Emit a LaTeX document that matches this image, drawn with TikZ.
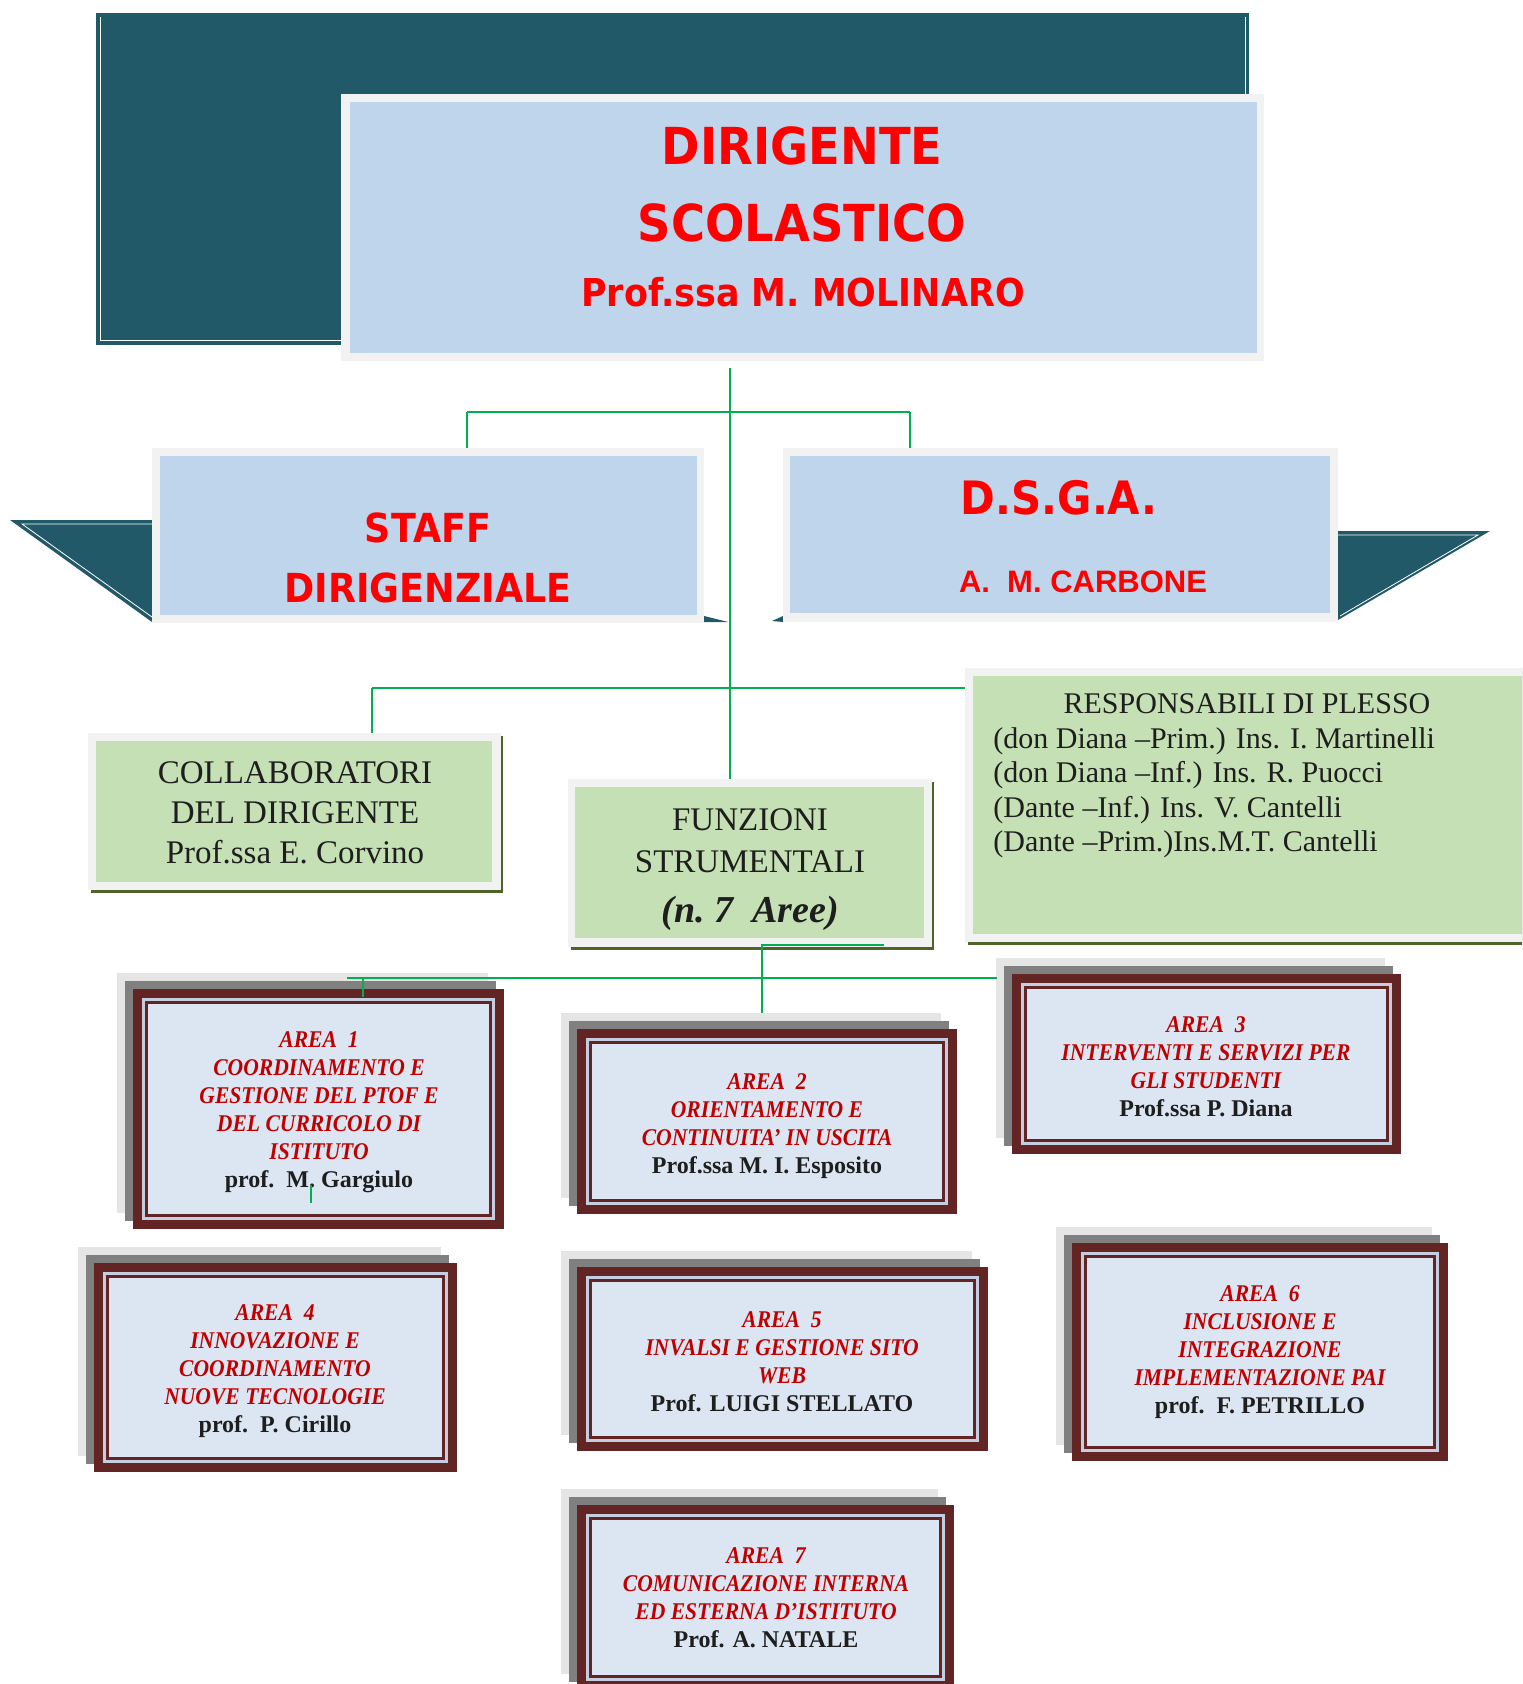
\documentclass[tikz,border=0pt]{standalone}
\usepackage{fontspec}
\setmainfont{Liberation Serif}
\newfontfamily\titlefont[FakeStretch=0.91]{DejaVu Sans}
\newfontfamily\areafont[FakeStretch=0.9]{Liberation Serif}
\newfontfamily\carbonfont{Liberation Sans}
\usetikzlibrary{fit}
\definecolor{cteal}{HTML}{215968}
\definecolor{cblue}{HTML}{BED5EB}
\definecolor{cborder}{HTML}{F2F2F2}
\definecolor{cgreenfill}{HTML}{C5E0B4}
\definecolor{colive}{HTML}{4F6228}
\definecolor{cline}{HTML}{00B050}
\definecolor{cred}{HTML}{FF0000}
\definecolor{careared}{HTML}{C00000}
\definecolor{cmaroon}{HTML}{632523}
\definecolor{careafill}{HTML}{DCE6F2}
\definecolor{cgap}{HTML}{C5CEE0}
\definecolor{cdgray}{HTML}{808080}
\definecolor{clgray}{HTML}{E5E5E5}
\definecolor{ctext}{HTML}{1E1E1E}
\newcommand\redl[1]{{\color{careared}\areafont\bfseries\itshape #1}}
\newcommand\namel[1]{{\color{ctext}\bfseries #1}}
\newcommand\areabox[5]{%
  \fill[clgray] ({#2-16},{#3-16}) rectangle ({#4-16},{#5-16});
  \fill[cdgray] ({#2-8},{#3-8}) rectangle ({#4-8},{#5-8});
  \node[fit={(#2,#3) (#4,#5)}, inner sep=0, outer sep=0, fill=cmaroon] (#1) {};
  \fill[cgap] ([shift={(9,9)}]#1.north west) rectangle ([shift={(-9,-9)}]#1.south east);
  \fill[cmaroon] ([shift={(12,12)}]#1.north west) rectangle ([shift={(-12,-12)}]#1.south east);
  \fill[careafill] ([shift={(15,15)}]#1.north west) rectangle ([shift={(-15,-15)}]#1.south east);
}
\tikzset{
  conn/.style={draw=cline, line width=1pt},
  boxnode/.style={inner sep=0, outer sep=0, fill=cborder},
  ttl/.style={anchor=base, inner sep=0, text=cred},
  areatext/.style={anchor=base, inner sep=0, font=\fontsize{12}{14}\selectfont},
  greentext/.style={anchor=base, inner sep=0, text=ctext},
}
\begin{document}
\begin{tikzpicture}[x=0.5pt,y=-0.5pt]
\path[use as bounding box] (0,0) rectangle (1522,1684);
\clip (0,0) rectangle (1522,1684);

% top dark panel
\fill[cteal] (96,13) rectangle (1249,345);
\draw[white, line width=0.5pt] (100,17) -- (100,341) -- (1245,341) -- (1245,17);

% dirigente
\node[boxnode, fit={(341,94) (1264,361)}] (dir) {};
\fill[cblue] ([shift={(9,8)}]dir.north west) rectangle ([shift={(-7,-8)}]dir.south east);
\node[ttl, font=\titlefont\bfseries\fontsize{25.5}{30}\selectfont] (dt1) at (802,165) {DIRIGENTE};
\node[ttl, font=\titlefont\bfseries\fontsize{25.5}{30}\selectfont] (dt2) at (802,242) {SCOLASTICO};
\node[ttl, font=\titlefont\bfseries\fontsize{19.2}{23}\selectfont] (dt3) at (803,307) {Prof.ssa M. MOLINARO};

% banners
\fill[cteal] (10,520) -- (152,520) -- (152,622) -- cycle;
\draw[white, line width=0.4pt] (152,524) -- (22,524) -- (152,617);
\fill[cteal] (704,616) -- (728,622) -- (704,622) -- cycle;
\fill[cteal] (1338,531) -- (1490,531) -- (1338,620) -- cycle;
\draw[white, line width=0.4pt] (1338,535) -- (1478,535) -- (1340,616);
\fill[cteal] (772,621) -- (783,616) -- (783,622) -- cycle;

% staff
\node[boxnode, fit={(152,448) (704,623)}] (staff) {};
\fill[cblue] ([shift={(8,8)}]staff.north west) rectangle ([shift={(-7,-8)}]staff.south east);
\node[ttl, font=\titlefont\bfseries\fontsize{20}{24}\selectfont] (st1) at (428,542) {STAFF};
\node[ttl, font=\titlefont\bfseries\fontsize{20}{24}\selectfont] (st2) at (428,602) {DIRIGENZIALE};

% dsga
\node[boxnode, fit={(783,448) (1338,622)}] (dsga) {};
\fill[cblue] ([shift={(7,8)}]dsga.north west) rectangle ([shift={(-8,-9)}]dsga.south east);
\node[ttl, font=\titlefont\bfseries\fontsize{23}{27}\selectfont] (ds1) at (1059,514) {D.S.G.A.};
\node[ttl, font=\carbonfont\bfseries\fontsize{15.5}{18}\selectfont] (ds2) at (1083,592) {A.~~M. CARBONE};

% collaboratori
\fill[colive] (91,736) rectangle (503,893);
\node[boxnode, fit={(88,733) (501,890)}] (coll) {};
\fill[cgreenfill] ([shift={(8,8)}]coll.north west) rectangle ([shift={(-9,-8)}]coll.south east);
\node[greentext, font=\fontsize{16.5}{20}\selectfont] (collt) at (295,783)
  {\begin{tabular}[t]{@{}c@{}}COLLABORATORI\\DEL DIRIGENTE\\Prof.ssa E. Corvino\end{tabular}};

% funzioni
\fill[colive] (571,782) rectangle (934,950);
\node[boxnode, fit={(568,779) (932,947)}] (fun) {};
\fill[cgreenfill] ([shift={(7,8)}]fun.north west) rectangle ([shift={(-8,-9)}]fun.south east);
\node[greentext, font=\fontsize{16.5}{21}\selectfont] (funt) at (750,830)
  {\begin{tabular}[t]{@{}c@{}}FUNZIONI\\STRUMENTALI\end{tabular}};
\node[greentext, font=\bfseries\itshape\fontsize{19}{22}\selectfont] (funt2) at (750,922) {(n.~7~~Aree)};

% responsabili
\fill[colive] (968,671) rectangle (1530,945);
\node[boxnode, fit={(965,668) (1530,942)}] (resp) {};
\fill[cgreenfill] ([shift={(8,8)}]resp.north west) rectangle ([shift={(0,-8)}]resp.south east);
\node[greentext, font=\fontsize{15}{17.3}\selectfont] (respt) at (1247,713) {RESPONSABILI DI PLESSO};
\node[greentext, font=\fontsize{15}{17.3}\selectfont, anchor=base west] (respl) at (993,748)
  {\begin{tabular}[t]{@{}l@{}}(don Diana –Prim.) Ins. I. Martinelli\\(don Diana –Inf.) Ins. R. Puocci\\(Dante –Inf.) Ins. V. Cantelli\\(Dante –Prim.)Ins.M.T. Cantelli\end{tabular}};

% connectors (upper part)
\coordinate (j0) at (730,368);
\coordinate (hL) at (467,412);
\coordinate (hR) at (910,412);
\draw[conn] (j0) -- (j0 |- fun.north);
\draw[conn] (hL) -- (hR);
\draw[conn] (hL) -- (hL |- staff.north);
\draw[conn] (hR) -- (hR |- dsga.north);
\coordinate (h2L) at (372,688);
\draw[conn] (h2L) -- (h2L -| resp.west);
\draw[conn] (h2L) -- (h2L |- coll.north);

% area boxes
\areabox{a1}{133}{989}{504}{1229}
\areabox{a2}{577}{1029}{957}{1214}
\areabox{a3}{1012}{974}{1401}{1154}
\areabox{a4}{94}{1263}{457}{1472}
\areabox{a5}{577}{1267}{988}{1451}
\areabox{a6}{1072}{1243}{1448}{1461}
\areabox{a7}{577}{1505}{954}{1690}

\node[areatext] (a1t) at (319,1047) {\begin{tabular}[t]{@{}c@{}}\redl{AREA~~1}\\\redl{COORDINAMENTO E}\\\redl{GESTIONE DEL PTOF E}\\\redl{DEL CURRICOLO DI}\\\redl{ISTITUTO}\\\namel{prof.~~M. Gargiulo}\end{tabular}};
\node[areatext] (a2t) at (767,1089) {\begin{tabular}[t]{@{}c@{}}\redl{AREA~~2}\\\redl{ORIENTAMENTO E}\\\redl{CONTINUITA’ IN USCITA}\\\namel{Prof.ssa M. I. Esposito}\end{tabular}};
\node[areatext] (a3t) at (1206,1032) {\begin{tabular}[t]{@{}c@{}}\redl{AREA~~3}\\\redl{INTERVENTI E SERVIZI PER}\\\redl{GLI STUDENTI}\\\namel{Prof.ssa P. Diana}\end{tabular}};
\node[areatext] (a4t) at (275,1320) {\begin{tabular}[t]{@{}c@{}}\redl{AREA~~4}\\\redl{INNOVAZIONE E}\\\redl{COORDINAMENTO}\\\redl{NUOVE TECNOLOGIE}\\\namel{prof.~~P. Cirillo}\end{tabular}};
\node[areatext] (a5t) at (782,1327) {\begin{tabular}[t]{@{}c@{}}\redl{AREA~~5}\\\redl{INVALSI E GESTIONE SITO}\\\redl{WEB}\\\namel{Prof. LUIGI STELLATO}\end{tabular}};
\node[areatext] (a6t) at (1260,1301) {\begin{tabular}[t]{@{}c@{}}\redl{AREA~~6}\\\redl{INCLUSIONE E}\\\redl{INTEGRAZIONE}\\\redl{IMPLEMENTAZIONE PAI}\\\namel{prof.~~F. PETRILLO}\end{tabular}};
\node[areatext] (a7t) at (766,1563) {\begin{tabular}[t]{@{}c@{}}\redl{AREA~~7}\\\redl{COMUNICAZIONE INTERNA}\\\redl{ED ESTERNA D’ISTITUTO}\\\namel{Prof. A. NATALE}\end{tabular}};

% connectors (lower part)
\coordinate (f0) at (762,945);
\coordinate (f1) at (884,945);
\coordinate (f2) at (762,1013);
\draw[conn] (f1) -- (f0) -- (f2);
\coordinate (h3L) at (347,978);
\coordinate (h3R) at (997,978);
\draw[conn] (h3L) -- (h3R);
\coordinate (d1) at (363,978);
\draw[conn] (d1) -- (d1 |- a1.north) -- ++(0,8);
\coordinate (tk) at (311,1185);
\draw[conn] (tk) -- ++(0,18);
\end{tikzpicture}
\end{document}
